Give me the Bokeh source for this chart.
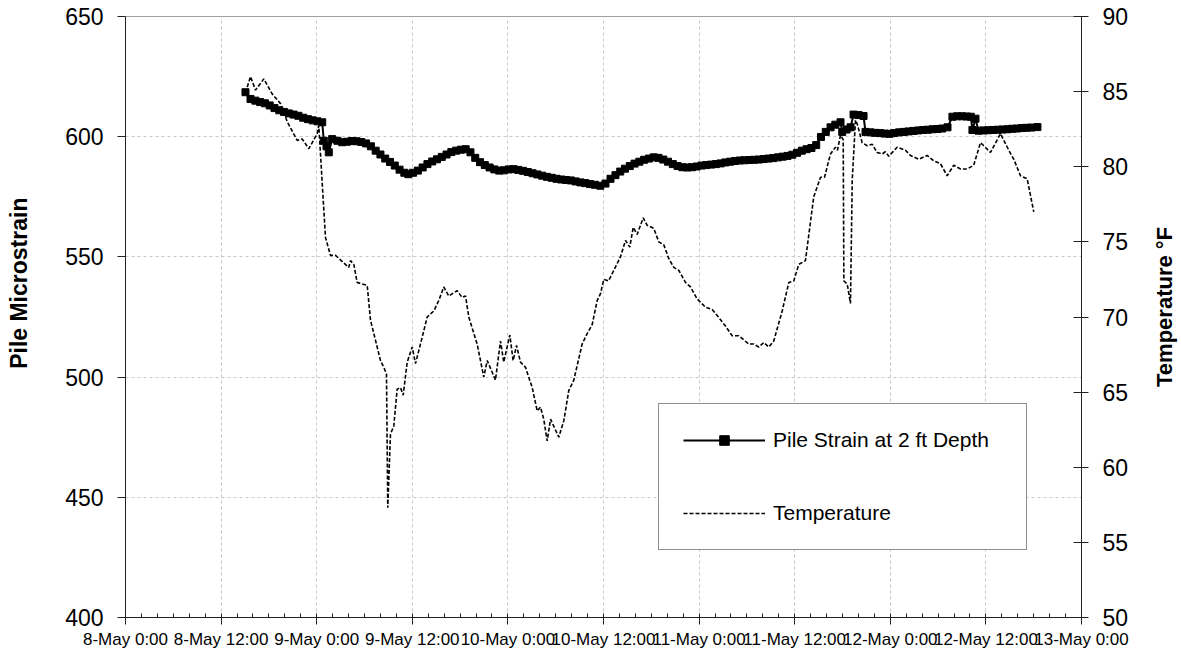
import math
from bokeh.plotting import figure
from bokeh.layouts import row
from bokeh.models import Range1d, LinearAxis, FixedTicker, Legend, LegendItem, Label
from bokeh.embed import file_html
from bokeh.resources import INLINE

# ---- data (x = hours after 8-May 0:00) ----
tick_hours = [0, 12, 24, 36, 48, 60, 72, 84, 96, 108, 120]
tick_labels = ["8-May 0:00", "8-May 12:00", "9-May 0:00", "9-May 12:00", "10-May 0:00",
               "10-May 12:00", "11-May 0:00", "11-May 12:00", "12-May 0:00", "12-May 12:00",
               "13-May 0:00"]
strain_ticks = [400, 450, 500, 550, 600, 650]
temp_ticks = [50, 55, 60, 65, 70, 75, 80, 85, 90]

strain_hours = [15.06, 15.69, 16.3, 16.9, 17.5, 18.1, 18.7, 19.3, 19.9, 20.5, 21.1, 21.7, 22.3, 22.9,
                23.5, 24.1, 24.69, 24.89, 25.23, 25.52, 25.94, 26.6, 27.2, 27.8, 28.4, 29.0, 29.6,
                30.2, 30.8, 31.4, 32.0, 32.6, 33.2, 33.8, 34.4, 35.0, 35.5, 36.1, 36.7, 37.3, 37.9,
                38.5, 39.1, 39.7, 40.3, 40.9, 41.5, 42.1, 42.7, 43.3, 43.9, 44.5, 45.1, 45.7, 46.3,
                46.9, 47.5, 48.1, 48.7, 49.3, 49.9, 50.5, 51.1, 51.7, 52.3, 52.9, 53.5, 54.1, 54.7,
                55.3, 55.9, 56.5, 57.1, 57.7, 58.3, 58.9, 59.6, 60.25, 60.88, 61.5, 62.1, 62.7, 63.3,
                63.9, 64.5, 65.1, 65.7, 66.3, 66.9, 67.5, 68.1, 68.7, 69.3, 69.9, 70.5, 71.1, 71.7,
                72.3, 72.9, 73.5, 74.1, 74.7, 75.3, 75.9, 76.5, 77.1, 77.7, 78.3, 78.9, 79.5, 80.1,
                80.7, 81.3, 81.9, 82.5, 83.1, 83.7, 84.3, 84.9, 85.5, 86.1, 86.7, 87.3, 87.9, 88.5,
                89.1, 89.75, 89.97, 90.51, 91.01, 91.39, 92.02, 92.64, 92.89, 93.5, 94.1, 94.7, 95.3,
                95.9, 96.5, 97.1, 97.7, 98.3, 98.9, 99.5, 100.1, 100.7, 101.3, 101.9, 102.5, 103.18,
                103.8, 104.4, 105.0, 105.6, 106.1, 106.31, 106.69, 107.07, 107.7, 108.3, 108.9, 109.5,
                110.1, 110.7, 111.3, 111.9, 112.5, 113.1, 113.7, 114.47]
strain_values = [618.5, 615.7, 615.0, 614.4, 613.9, 613.0, 611.9, 611.0, 610.3, 609.7, 609.2, 608.7,
                 607.9, 607.3, 606.8, 606.4, 606.0, 598.3, 596.0, 593.5, 599.0, 598.3, 597.7, 597.9,
                 598.2, 598.1, 597.8, 597.2, 596.0, 594.2, 592.6, 590.9, 589.5, 588.0, 586.3, 585.0,
                 584.4, 585.0, 585.9, 587.2, 588.6, 589.7, 590.6, 591.6, 592.6, 593.6, 594.2, 594.6,
                 594.8, 593.5, 591.2, 589.4, 588.2, 587.2, 586.4, 585.9, 586.0, 586.4, 586.5, 586.2,
                 585.8, 585.3, 584.8, 584.3, 583.8, 583.3, 582.9, 582.5, 582.2, 582.0, 581.8, 581.4,
                 581.0, 580.7, 580.3, 580.0, 579.6, 580.5, 582.5, 584.0, 585.5, 586.7, 587.8, 588.8,
                 589.6, 590.4, 590.9, 591.4, 591.2, 590.5, 589.6, 588.6, 587.8, 587.3, 587.2, 587.3,
                 587.6, 588.0, 588.2, 588.4, 588.6, 588.9, 589.3, 589.6, 589.9, 590.1, 590.2, 590.3,
                 590.4, 590.5, 590.7, 590.9, 591.1, 591.4, 591.7, 592.0, 592.5, 593.3, 594.2, 594.8,
                 595.3, 596.5, 599.9, 602.0, 603.9, 605.0, 606.0, 602.0, 603.0, 603.9, 609.2, 609.0,
                 608.6, 602.0, 601.8, 601.6, 601.5, 601.3, 601.2, 601.5, 601.8, 602.0, 602.2, 602.4,
                 602.6, 602.8, 602.9, 603.1, 603.2, 603.4, 603.9, 608.3, 608.5, 608.5, 608.4, 608.3,
                 602.8, 607.5, 602.5, 602.6, 602.7, 602.8, 602.9, 603.0, 603.1, 603.3, 603.4, 603.6,
                 603.7, 603.8, 604.0]

temp_hours = [15.28, 15.69, 16.32, 17.36, 18.41, 19.46, 20.30, 21.55, 22.18, 23.01, 24.06, 24.26,
              25.10, 25.73, 26.36, 27.40, 28.03, 28.24, 28.66, 29.08, 30.34, 30.75, 31.59, 32.01,
              32.42, 32.76, 32.92, 33.26, 33.68, 34.10, 34.52, 34.86, 35.36, 35.99, 36.40, 37.24,
              37.87, 38.70, 39.33, 39.95, 40.58, 41.63, 42.26, 42.68, 43.09, 44.14, 44.56, 44.97,
              45.40, 45.81, 46.44, 47.07, 47.48, 48.24, 48.66, 49.08, 49.58, 50.21, 51.05, 51.68,
              52.09, 52.50, 52.93, 53.35, 54.39, 55.02, 55.64, 56.27, 57.32, 57.95, 58.58, 59.21,
              59.62, 60.04, 60.63, 61.29, 62.13, 62.76, 63.30, 63.73, 64.23, 64.98, 65.48, 66.31,
              66.94, 67.57, 68.19, 68.82, 69.45, 70.29, 70.92, 71.76, 72.80, 73.64, 74.27, 75.31,
              76.15, 76.98, 78.24, 78.86, 79.49, 80.12, 80.75, 81.37, 82.43, 83.26, 83.88, 84.51,
              85.35, 86.39, 87.24, 87.74, 88.49, 89.12, 89.37, 89.75, 90.09, 90.17, 90.59, 91.00,
              91.22, 91.63, 91.85, 92.47, 93.10, 93.72, 94.35, 94.98, 95.39, 95.81, 96.86, 97.90,
              98.53, 99.57, 100.63, 101.45, 102.30, 103.14, 103.96, 104.81, 105.65, 106.47, 107.32,
              107.73, 108.57, 109.83, 110.87, 111.50, 112.34, 113.18, 114.01]
temp_values = [85.3, 86.0, 85.1, 85.85, 84.85, 84.2, 83.0, 81.75, 81.85, 81.2, 82.2, 82.75,
               75.3, 74.1, 74.1, 73.6, 73.3, 73.75, 73.5, 72.3, 72.1, 69.8, 68.0, 67.1,
               66.65, 66.2, 57.3, 62.2, 62.75, 65.2, 65.3, 64.8, 67.0, 68.0, 66.9, 68.65,
               70.0, 70.4, 71.1, 72.0, 71.4, 71.75, 71.3, 71.4, 70.0, 68.2, 67.1, 66.0,
               67.1, 66.6, 65.8, 68.4, 67.0, 68.8, 67.1, 68.1, 67.0, 66.65, 65.3, 63.75,
               64.0, 63.2, 61.75, 63.2, 62.0, 63.1, 65.1, 65.8, 68.2, 68.9, 69.5, 71.1,
               71.55, 72.5, 72.4, 73.1, 74.0, 75.1, 74.65, 75.97, 75.5, 76.6, 76.1, 75.9,
               75.0, 74.8, 73.9, 73.3, 73.1, 72.3, 72.0, 71.2, 70.65, 70.5, 70.1, 69.4,
               68.75, 68.75, 68.2, 68.2, 68.0, 68.3, 68.0, 68.4, 70.4, 72.3, 72.4, 73.5,
               73.75, 78.0, 79.3, 79.3, 80.85, 81.3, 81.1, 82.1, 81.8, 72.4, 72.2, 70.9,
               79.1, 83.1, 82.85, 81.6, 81.4, 81.5, 80.95, 80.85, 81.0, 80.7, 81.3, 81.1,
               80.75, 80.5, 80.75, 80.4, 80.2, 79.4, 80.1, 79.85, 79.85, 80.1, 81.6,
               81.4, 80.95, 82.2, 81.1, 80.5, 79.4, 79.2, 77.0]

left_title = "Pile Microstrain"
right_title = "Temperature °F"

FONT = "Liberation Sans"
H = 658
SIDE_W = 40

# ---- main chart ----
p = figure(width=1181 - 2 * SIDE_W, height=H, output_backend="svg", toolbar_location=None,
           x_range=Range1d(0, 120), y_range=Range1d(400, 650),
           min_border_left=125 - SIDE_W, min_border_right=100 - SIDE_W,
           min_border_top=16, min_border_bottom=41,
           background_fill_color="white", border_fill_color="white")
p.outline_line_color = "#a0a0a0"
p.outline_line_width = 1

p.extra_y_ranges = {"temp": Range1d(50, 90)}

p.xgrid.ticker = FixedTicker(ticks=tick_hours)
p.xgrid.grid_line_color = "#c8c8c8"
p.xgrid.grid_line_dash = "3 3"
p.ygrid.grid_line_color = "#c8c8c8"
p.ygrid.grid_line_dash = "3 3"

xa = p.xaxis[0]
xa.ticker = FixedTicker(ticks=tick_hours, minor_ticks=list(range(0, 121, 2)))
xa.major_label_overrides = {h: t for h, t in zip(tick_hours, tick_labels)}
xa.major_label_text_font = FONT
xa.major_label_text_font_size = "17px"
xa.major_label_text_color = "black"
xa.major_label_standoff = 5
xa.axis_line_color = "#222222"
xa.major_tick_line_color = "#222222"
xa.minor_tick_line_color = "#222222"
xa.major_tick_in = 3
xa.major_tick_out = 7
xa.minor_tick_in = 4
xa.minor_tick_out = 0

ya = p.yaxis[0]
ya.ticker = FixedTicker(ticks=strain_ticks)
ya.major_label_text_font = FONT
ya.major_label_text_font_size = "23px"
ya.major_label_text_color = "black"
ya.major_label_standoff = 14
ya.axis_line_color = "#222222"
ya.major_tick_line_color = "#222222"
ya.major_tick_in = 0
ya.major_tick_out = 8
ya.minor_tick_line_color = None

ra = LinearAxis(y_range_name="temp", ticker=FixedTicker(ticks=temp_ticks))
ra.major_label_text_font = FONT
ra.major_label_text_font_size = "23px"
ra.major_label_text_color = "black"
ra.major_label_standoff = 14
ra.axis_line_color = "#222222"
ra.major_tick_line_color = "#222222"
ra.major_tick_in = 8
ra.major_tick_out = 7
ra.minor_tick_line_color = None
p.add_layout(ra, "right")

temp_line = p.line(temp_hours, temp_values, y_range_name="temp", line_color="black",
                   line_width=1.6, line_dash="4 2")
strain_line = p.line(strain_hours, strain_values, line_color="black", line_width=2)
strain_marks = p.scatter(strain_hours, strain_values, marker="square", size=7,
                         fill_color="black", line_color="black")

legend = Legend(items=[
    LegendItem(label="Pile Strain at 2 ft Depth", renderers=[strain_line, strain_marks]),
    LegendItem(label="Temperature", renderers=[temp_line]),
], location=(533, 67))
legend.label_text_font = FONT
legend.label_text_font_size = "21px"
legend.label_text_color = "black"
legend.padding = 24
legend.spacing = 49
legend.glyph_width = 82
legend.glyph_height = 24
legend.label_height = 24
legend.label_width = 229
legend.label_standoff = 8
legend.margin = 0
legend.border_line_color = "#222222"
legend.border_line_width = 1
legend.background_fill_color = "white"
legend.background_fill_alpha = 1
p.add_layout(legend)


# ---- narrow side panels that carry the rotated axis titles ----
def title_panel(text, cx, cy, size):
    f = figure(width=SIDE_W, height=H, output_backend="svg", toolbar_location=None,
               x_range=Range1d(0, SIDE_W), y_range=Range1d(0, H),
               x_axis_location=None, y_axis_location=None, min_border=0,
               background_fill_color="white", border_fill_color="white")
    f.outline_line_color = None
    f.grid.visible = False
    f.add_layout(Label(x=cx, y=H - cy, text=text, angle=math.pi / 2,
                       text_align="center", text_baseline="middle",
                       text_font=FONT, text_font_style="bold", text_font_size=size,
                       text_color="black"))
    return f


left_panel = title_panel(left_title, 18, 292, "23px")
right_panel = title_panel(right_title, 22.5, 318, "22px")

layout = row(left_panel, p, right_panel, spacing=0)

open("out.html", "w").write(file_html(layout, INLINE))
